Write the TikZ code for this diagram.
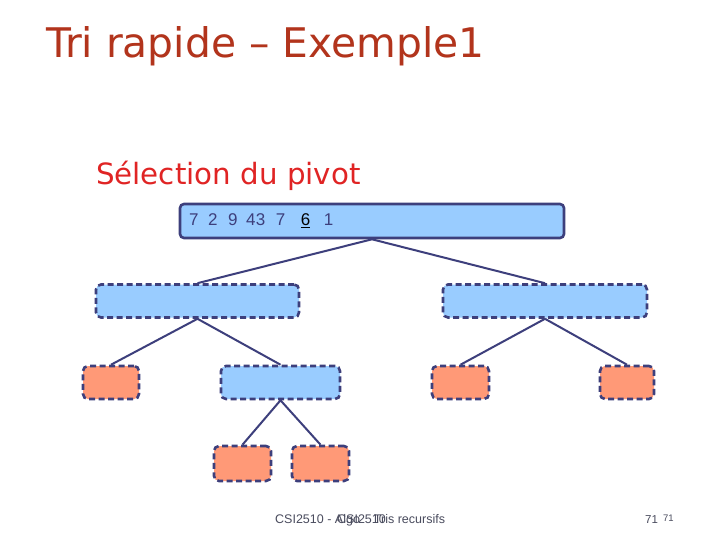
\documentclass[tikz,border=0pt]{standalone}
\usepackage{fontspec}
\setmainfont{DejaVu Sans}
\newfontfamily\digitfont{Liberation Sans}
\usepackage{tikz}
\usetikzlibrary{positioning}

\definecolor{boxblue}{HTML}{99CCFF}
\definecolor{boxorange}{HTML}{FF9977}
\definecolor{navy}{HTML}{3D3F7C}
\definecolor{titlebrown}{HTML}{B2341C}
\definecolor{subred}{HTML}{E02424}
\definecolor{footgrey}{HTML}{4A4C5E}

\tikzset{
    pivotbox/.style={draw=navy, line width=2.6pt, fill=boxblue, rounded corners=4pt,
        minimum height=34pt, inner sep=0pt},
    partbox/.style={draw=navy, line width=2.6pt, fill=boxblue, rounded corners=5pt,
        dash pattern=on 6pt off 3.5pt, minimum height=33pt, inner sep=0pt},
    leafbox/.style={partbox, fill=boxorange},
    edge/.style={draw=navy, line width=2pt},
    foottext/.style={anchor=base west, inner sep=0pt, text=footgrey},
}

\begin{document}
\begin{tikzpicture}[x=1pt,y=-1pt]
    %% Background
    \useasboundingbox[fill=white] (0,0) rectangle (720,540);
    %% Titles
    \node[anchor=base west, inner sep=0pt, text=titlebrown, font=\fontsize{40.8}{46}\selectfont]
        (title) at (46,58) {Tri rapide – Exemple1};
    \node[anchor=base west, inner sep=0pt, text=subred, font=\fontsize{29.3}{34}\selectfont]
        (sub) at (96,185) {Sélection du pivot};
    %% Boxes
    \node[pivotbox, minimum width=384pt] (top) at (372,221) {};
    \node[anchor=west, inner sep=0pt, text=navy, font=\digitfont\fontsize{17}{19}\selectfont]
        (seq) at (189,221) {7\hspace{9.5pt}2\hspace{10.5pt}9\hspace{8.5pt}4\hspace{0.5pt}3\hspace{10.5pt}7\hspace{15.5pt}\textcolor{black}{\underline{6}}\hspace{13.5pt}1};
    \node[partbox, minimum width=203pt] (left) at (197.5,301) {};
    \node[partbox, minimum width=204pt] (right) at (545,301) {};
    \node[leafbox, minimum width=56pt] (leafa) at (111,382.5) {};
    \node[partbox, minimum width=119pt] (mid) at (280.5,382.5) {};
    \node[leafbox, minimum width=57pt] (leafb) at (460.5,382.5) {};
    \node[leafbox, minimum width=54pt] (leafc) at (627,382.5) {};
    \node[leafbox, minimum width=57pt, minimum height=35pt] (leafd) at (242.5,463.5) {};
    \node[leafbox, minimum width=57pt, minimum height=35pt] (leafe) at (320.5,463.5) {};
    %% Edges
    \draw[edge]
    (top.south) -- (left.north)
    (top.south) -- (right.north)
    (left.south) -- (leafa.north)
    (left.south) -- (mid.north)
    (right.south) -- (leafb.north)
    (right.south) -- (leafc.north)
    (mid.south) -- (leafd.north)
    (mid.south) -- (leafe.north)
    ;
    %% Footer
    \node[foottext, font=\digitfont\fontsize{12.5}{14}\selectfont]
        (foot) at (275,523) {CSI2510 - Algo\hspace{14pt}Tris recursifs};
    \node[foottext, font=\digitfont\fontsize{12.5}{14}\selectfont]
        (footb) at (337,523) {CSI2510};
    \node[foottext, font=\digitfont\fontsize{11.5}{13}\selectfont]
        (page) at (645,523) {71};
    \node[foottext, font=\digitfont\fontsize{9.5}{11}\selectfont]
        (pageb) at (663,521) {71};
\end{tikzpicture}
\end{document}
